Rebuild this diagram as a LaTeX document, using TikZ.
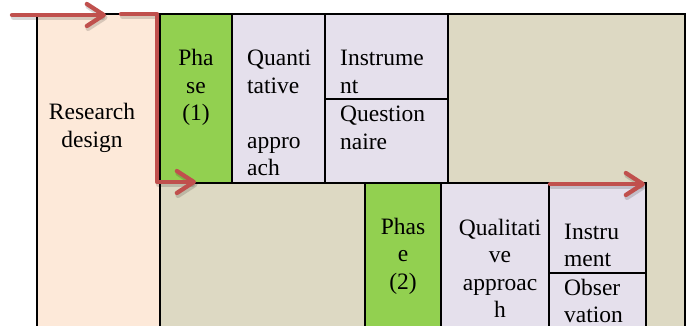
\documentclass[tikz,border=0pt]{standalone}
\usepackage{fontspec}
\setmainfont{Liberation Serif}
\usetikzlibrary{arrows.meta}
\definecolor{peach}{HTML}{FDE9D9}
\definecolor{beige}{HTML}{DDD9C3}
\definecolor{phgreen}{HTML}{92D050}
\definecolor{lav}{HTML}{E5E0EC}
\definecolor{arrowred}{HTML}{C0504D}
\begin{document}
\begin{tikzpicture}[x=1pt,y=-1pt,
  cell/.style={draw=black, line width=1.8pt, inner sep=0pt, outer sep=0pt, anchor=north west},
  txt/.style={inner sep=0pt, font=\fontsize{23.5}{27.5}\selectfont},
  ltxt/.style={txt, anchor=north west, align=left},
  ctxt/.style={txt, anchor=north, align=center},
  redarrow/.style={draw=arrowred, line width=4.3pt, line cap=round, line join=round,
    -{Straight Barb[length=17pt,width=22pt,round]}},
  arrowshadow/.style={draw=black, opacity=0.15, line width=5pt, line cap=round, line join=round,
    -{Straight Barb[length=17pt,width=22pt,round]}, transform canvas={shift={(1.5pt,-2.5pt)}}}
]
\useasboundingbox (0,0) rectangle (689,326);
\clip (0,0) rectangle (689,326);
% boxes
\node[cell, fill=beige, minimum width=525pt, minimum height=330pt] (bg) at (160,14) {};
\node[cell, fill=peach, minimum width=123pt, minimum height=330pt] (rd) at (37,14) {};
\node[cell, fill=phgreen, minimum width=72pt, minimum height=169pt] (ph1) at (160,14) {};
\node[cell, fill=lav, minimum width=93pt, minimum height=169pt] (qt) at (232,14) {};
\node[cell, fill=lav, minimum width=123pt, minimum height=85pt] (in1) at (325,14) {};
\node[cell, fill=lav, minimum width=123pt, minimum height=84pt] (qn) at (325,99) {};
\node[cell, fill=phgreen, minimum width=76pt, minimum height=160pt] (ph2) at (365,183) {};
\node[cell, fill=lav, minimum width=108pt, minimum height=160pt] (ql) at (441,183) {};
\node[cell, fill=lav, minimum width=97pt, minimum height=90pt] (in2) at (549,183) {};
\node[cell, fill=lav, minimum width=97pt, minimum height=70pt] (ob) at (549,273) {};
% texts
\node[ctxt] (trd) at (92,100.3) {\strut Research\\design};
\node[ctxt] (tph1) at (196,46.5) {\strut Pha\\se\\(1)};
\node[ltxt] (tqt) at (247,46.5) {\strut Quanti\\tative\\\strut\\appro\\ach};
\node[ltxt] (tin1) at (340,46.5) {\strut Instrume\\nt};
\node[ltxt] (tqn) at (340,102.3) {\strut Question\\naire};
\node[ctxt] (tph2) at (403,214.8) {\strut Phas\\e\\(2)};
\node[ctxt] (tql) at (500,215.8) {\strut Qualitati\\ve\\approac\\h};
\node[ltxt] (tin2) at (564,219.8) {\strut Instru\\ment};
\node[ltxt] (tob) at (564,275.8) {\strut Obser\\vation};
% arrows
\coordinate (a1s) at (12,15);
\coordinate (a1e) at (106,15);
\coordinate (a2s) at (121,14);
\coordinate (a2c1) at (157,14);
\coordinate (a2c2) at (157,182);
\coordinate (a2e) at (196,182);
\coordinate (a3s) at (550,184);
\coordinate (a3e) at (645,184);
\draw[arrowshadow] (a1s) -- (a1e);
\draw[arrowshadow] (a2s) -- (a2c1) -- (a2c2) -- (a2e);
\draw[arrowshadow] (a3s) -- (a3e);
\draw[redarrow] (a1s) -- (a1e);
\draw[redarrow] (a2s) -- (a2c1) -- (a2c2) -- (a2e);
\draw[redarrow] (a3s) -- (a3e);
\end{tikzpicture}
\end{document}
